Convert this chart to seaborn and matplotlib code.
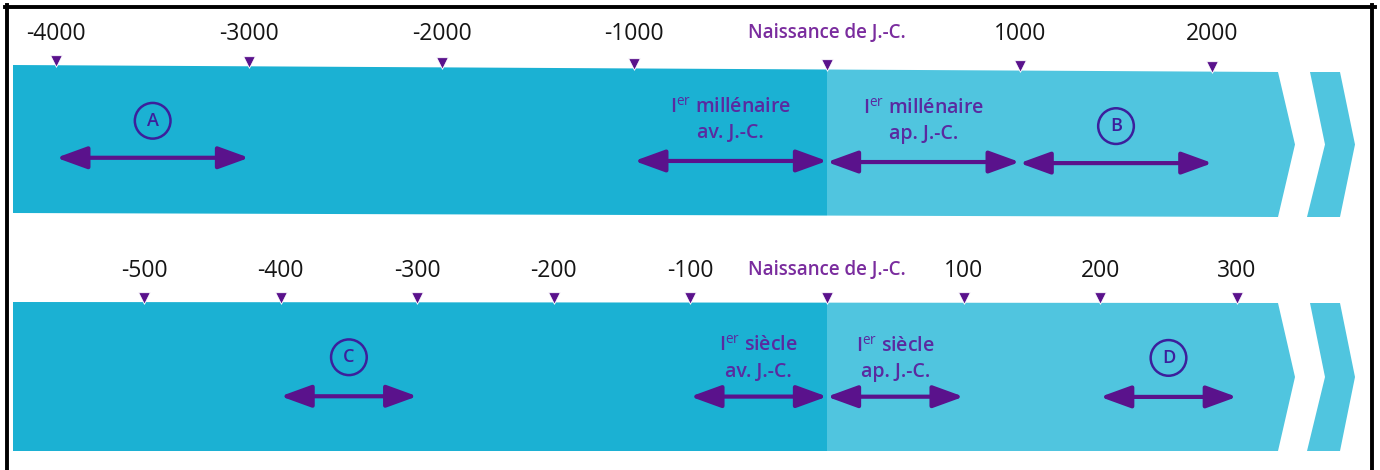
import numpy as np
import pandas as pd
import matplotlib.pyplot as plt
import seaborn as sns
from matplotlib.patches import Polygon
from matplotlib.lines import Line2D
from matplotlib import transforms

# Top timeline: millennia
top_ticks = [-4000, -3000, -2000, -1000, 0, 1000, 2000]
top_labels = ["-4000", "-3000", "-2000", "-1000", "Naissance de J.-C.", "1000", "2000"]
top_letters = ["A", "B"]
top_letter_spans = [(-4000, -3000), (1000, 2000)]
top_named = ["I$^{\\mathrm{er}}$ millénaire\nav. J.-C.", "I$^{\\mathrm{er}}$ millénaire\nap. J.-C."]
top_named_spans = [(-1000, 0), (0, 1000)]

# Bottom timeline: centuries
bot_ticks = [-500, -400, -300, -200, -100, 0, 100, 200, 300]
bot_labels = ["-500", "-400", "-300", "-200", "-100", "Naissance de J.-C.", "100", "200", "300"]
bot_letters = ["C", "D"]
bot_letter_spans = [(-400, -300), (200, 300)]
bot_named = ["I$^{\\mathrm{er}}$ siècle\nav. J.-C.", "I$^{\\mathrm{er}}$ siècle\nap. J.-C."]
bot_named_spans = [(-100, 0), (0, 100)]

DARK = "#1bb1d3"
LIGHT = "#50c5df"
PURPLE = "#5a128c"
TEXT_PURPLE = "#5a2aa0"
BIRTH = "#7a2c9e"
CIRCLE = "#3c1f9c"

plt.rcParams['font.family'] = ['Open Sans', 'DejaVu Sans']
plt.rcParams['mathtext.fontset'] = 'custom'
plt.rcParams['mathtext.rm'] = 'Open Sans'

W, H = 1380, 470
ZERO_PX = 827
fig = plt.figure(figsize=(13.8, 4.7), dpi=100)


def draw_timeline(ax, y0, ppy, ticks, labels, letters, letter_spans, named, named_spans,
                  top_l, top_r, bot_l, bot_r, label_y, arrow_y, circle_y, text_y):
    ax.set_xlim((0 - ZERO_PX) / ppy, (W - ZERO_PX) / ppy)
    ax.set_ylim(y0 + 235, y0)
    ax.axis("off")
    blend = transforms.blended_transform_factory(ax.transAxes, ax.transData)

    def top_at(px):
        return top_l + (top_r - top_l) * (px - 13) / (1278 - 13)

    def bot_at(px):
        return bot_l + (bot_r - bot_l) * (px - 13) / (1278 - 13)

    def tilt(px):
        return top_at(px) - top_l

    mid = (top_r + bot_r) / 2
    dark = [(13, top_at(13)), (ZERO_PX, top_at(ZERO_PX)), (ZERO_PX, bot_at(ZERO_PX)), (13, bot_at(13))]
    light = [(ZERO_PX, top_at(ZERO_PX)), (1278, top_r), (1295, mid), (1278, bot_r), (ZERO_PX, bot_at(ZERO_PX))]
    chev = [(1310, top_r), (1340, top_r), (1355, mid), (1340, bot_r), (1307, bot_r), (1325, mid)]
    for pts, col in [(dark, DARK), (light, LIGHT), (chev, LIGHT)]:
        ax.add_patch(Polygon([(x / W, y) for x, y in pts], closed=True, facecolor=col,
                             edgecolor="none", transform=blend, zorder=1))

    # tick triangles
    px = [ZERO_PX + t * ppy for t in ticks]
    df = pd.DataFrame({"year": ticks, "y": [top_at(p) - 4.5 for p in px]})
    sns.scatterplot(data=df, x="year", y="y", marker="v", s=70, color=PURPLE,
                    edgecolor="white", linewidth=0.6, ax=ax, legend=False, zorder=4)

    for t, lab in zip(ticks, labels):
        if t == 0:
            ax.text(t, label_y - 1, lab, ha="center", va="center", fontsize=13.5,
                    color=BIRTH, fontweight="semibold")
        else:
            ax.text(t, label_y, lab, ha="center", va="center", fontsize=16.5, color="#151515")

    def arrow(a, b, y):
        ax.annotate("", xy=(b, y), xytext=(a, y),
                    arrowprops=dict(arrowstyle="<|-|>,head_length=0.55,head_width=0.2",
                                    mutation_scale=34, lw=3, color=PURPLE,
                                    shrinkA=0, shrinkB=0), zorder=3)

    for lab, (a, b) in zip(letters, letter_spans):
        m = (a + b) / 2
        d = tilt(ZERO_PX + m * ppy)
        arrow(a, b, arrow_y + d)
        ax.scatter([m], [circle_y + d], s=660, facecolors="none", edgecolors=CIRCLE,
                   linewidths=1.8, zorder=3)
        ax.text(m, circle_y + d, lab, ha="center", va="center", fontsize=13,
                color=CIRCLE, fontweight="semibold")

    for lab, (a, b) in zip(named, named_spans):
        m = (a + b) / 2
        d = tilt(ZERO_PX + m * ppy)
        arrow(a, b, arrow_y + d)
        l1, l2 = lab.split("\n")
        ax.text(m, text_y + d, l1, ha="center", va="center", fontsize=14,
                color=TEXT_PURPLE, fontweight="semibold")
        ax.text(m, text_y + 25 + d, l2, ha="center", va="center", fontsize=14,
                color=TEXT_PURPLE, fontweight="semibold")


ax_top = fig.add_axes([0, 0.5, 1, 0.5])
draw_timeline(ax_top, 0, 1156 / 6000, top_ticks, top_labels, top_letters, top_letter_spans,
              top_named, top_named_spans, 65, 72, 213, 217,
              label_y=34, arrow_y=157, circle_y=120, text_y=104)

ax_bot = fig.add_axes([0, 0, 1, 0.5])
draw_timeline(ax_bot, 235, 1.366, bot_ticks, bot_labels, bot_letters, bot_letter_spans,
              bot_named, bot_named_spans, 302, 303, 451, 451,
              label_y=271, arrow_y=396, circle_y=357, text_y=346)

# frame lines (top, left, right)
for xs, ys in [([5 / W, 1375 / W], [1 - 7 / H, 1 - 7 / H]),
               ([7 / W, 7 / W], [0, 1 - 5 / H]),
               ([1372 / W, 1372 / W], [0, 1 - 5 / H])]:
    fig.add_artist(Line2D(xs, ys, color="black", lw=2.8, transform=fig.transFigure))

fig.savefig("out.png", dpi=100, facecolor="white")
